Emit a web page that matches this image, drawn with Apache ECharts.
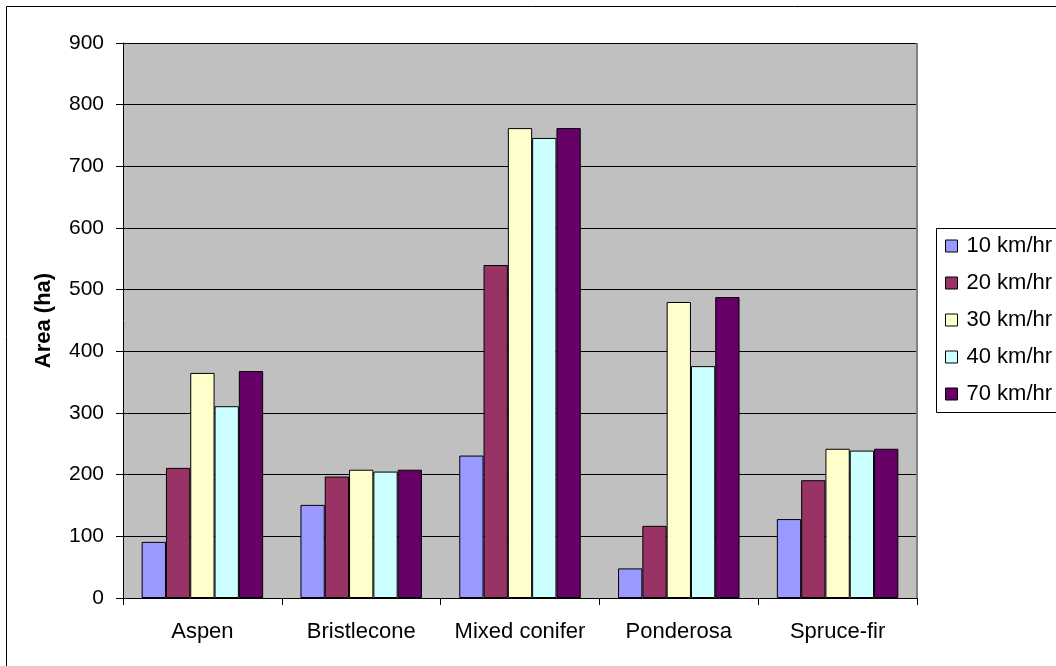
<!DOCTYPE html>
<html>
<head>
<meta charset="utf-8">
<script src="https://cdn.jsdelivr.net/npm/echarts@6/dist/echarts.min.js"></script>
<style>
  html, body { margin: 0; padding: 0; background: #fff; }
  #chart { width: 1056px; height: 666px; }
</style>
</head>
<body>
<div id="chart"></div>
<script>
// Forest types along the x axis
const categories = ['Aspen', 'Bristlecone', 'Mixed conifer', 'Ponderosa', 'Spruce-fir'];

// Burned area (ha) per wind speed
const wind10 = [91, 151, 231, 48, 128];
const wind20 = [211, 197, 540, 117, 191];
const wind30 = [365, 208, 762, 480, 242];
const wind40 = [311, 205, 746, 376, 239];
const wind70 = [368, 208, 762, 488, 242];

const seriesNames = ['10 km/hr', '20 km/hr', '30 km/hr', '40 km/hr', '70 km/hr'];
const seriesData = [wind10, wind20, wind30, wind40, wind70];
const seriesColors = ['#9999FF', '#993366', '#FFFFCC', '#CCFFFF', '#660066'];

const FONT = '"Liberation Sans", Arial, sans-serif';

const chart = echarts.init(document.getElementById('chart'), null, { renderer: 'canvas' });

chart.setOption({
  animation: false,
  backgroundColor: '#ffffff',
  textStyle: { fontFamily: FONT, color: '#000' },
  grid: {
    left: 123, top: 43, right: 139, bottom: 68,
    show: true, backgroundColor: '#C0C0C0', borderWidth: 0
  },
  legend: {
    orient: 'vertical',
    left: 945,
    top: 234,
    itemWidth: 12,
    itemHeight: 12,
    itemGap: 13,
    icon: 'rect',
    padding: 0,
    data: seriesNames,
    itemStyle: { borderColor: '#000', borderWidth: 1 },
    textStyle: { fontFamily: FONT, fontSize: 22, color: '#000', lineHeight: 24, padding: [0, 0, 0, 4] }
  },
  xAxis: {
    type: 'category',
    data: categories,
    axisLine: { show: true, lineStyle: { color: '#000', width: 1 } },
    axisTick: { show: true, alignWithLabel: false, length: 7, lineStyle: { color: '#000' } },
    axisLabel: { fontFamily: FONT, fontSize: 22, color: '#000', margin: 23, interval: 0 },
    splitLine: { show: false }
  },
  yAxis: {
    type: 'value',
    min: 0, max: 900, interval: 100,
    name: 'Area (ha)',
    nameLocation: 'middle',
    nameGap: 68,
    nameRotate: 90,
    nameTextStyle: { fontFamily: FONT, fontSize: 22, fontWeight: 'bold', color: '#000' },
    axisLine: { show: true, lineStyle: { color: '#000', width: 1 } },
    axisTick: { show: true, inside: false, length: 7, lineStyle: { color: '#000' } },
    axisLabel: { fontFamily: FONT, fontSize: 21, color: '#000', margin: 19 },
    splitLine: { show: true, lineStyle: { color: '#000', width: 1 } }
  },
  series: seriesNames.map((name, i) => ({
    name: name,
    type: 'bar',
    data: seriesData[i],
    barGap: '0%',
    barCategoryGap: '23.5%',
    itemStyle: { color: seriesColors[i], borderColor: '#000', borderWidth: 1 }
  })),
  graphic: [
    // outer chart frame
    {
      type: 'rect', z: 100, silent: true,
      shape: { x: 6.5, y: 6.5, width: 1100, height: 700 },
      style: { fill: 'none', stroke: '#000', lineWidth: 1 }
    },
    // right edge of plot area
    {
      type: 'line', z: 100, silent: true,
      shape: { x1: 917, y1: 43, x2: 917, y2: 598 },
      style: { stroke: '#808080', lineWidth: 2 }
    },
    // legend frame
    {
      type: 'rect', z: -1, silent: true,
      shape: { x: 936.5, y: 228.5, width: 200, height: 184 },
      style: { fill: '#fff', stroke: '#000', lineWidth: 1 }
    }
  ]
});
</script>
</body>
</html>
